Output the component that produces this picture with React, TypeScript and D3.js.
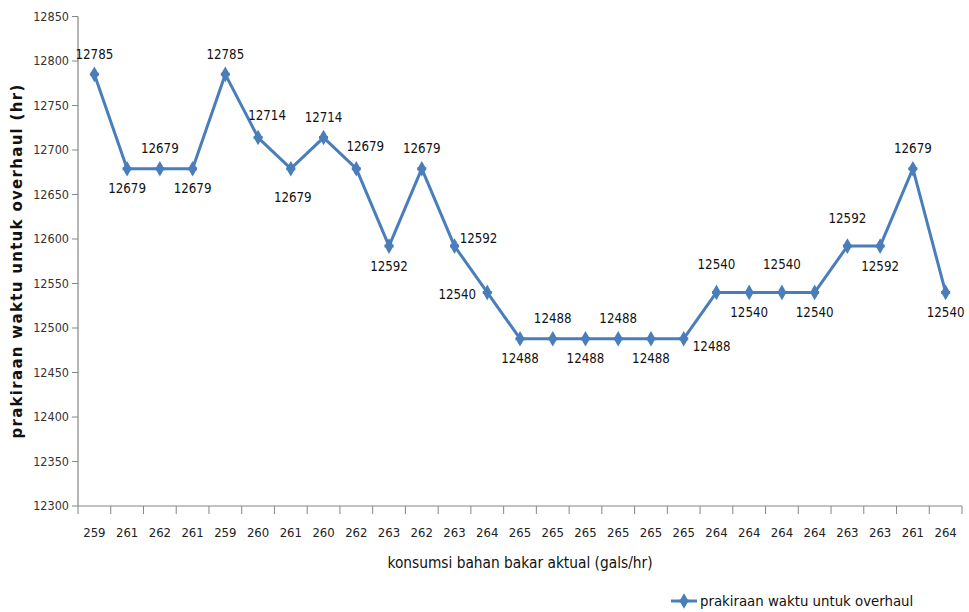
import React from "react";
import * as d3 from "d3";

const categories = ["259","261","262","261","259","260","261","260","262","263","262","263","264","265","265","265","265","265","265","264","264","264","264","263","263","261","264"];
const values = [12785,12679,12679,12679,12785,12714,12679,12714,12679,12592,12679,12592,12540,12488,12488,12488,12488,12488,12488,12540,12540,12540,12540,12592,12592,12679,12540];
const labelPlacement = ["above","below","above","below","above","aboveRight","below2","above","aboveRight","below","above","right","left","below","above","below","above","below","belowRight","above2","below","above2","below","above2","below","above","below"];
const yTicks = [12300,12350,12400,12450,12500,12550,12600,12650,12700,12750,12800,12850];
const seriesName = "prakiraan waktu untuk overhaul";
const xTitle = "konsumsi bahan bakar aktual (gals/hr)";
const yTitle = "prakiraan waktu untuk overhaul (hr)";

const W = 969, H = 612;
const left = 78, right = 962, top = 16.5, bottom = 506;
const FONT = "'DejaVu Sans Condensed', 'Liberation Sans Narrow', sans-serif";
const BLUE = "#4a7ebb";

function offset(p: string): [number, number] {
  switch (p) {
    case "above": return [0, -20];
    case "above2": return [0, -28];
    case "below": return [0, 20];
    case "below2": return [2, 29];
    case "aboveRight": return [9, -22];
    case "belowRight": return [28, 8];
    case "right": return [24, -8];
    case "left": return [-30, 2];
    default: return [0, -20];
  }
}

export default function App() {
  const x = d3.scaleBand<number>().domain(d3.range(categories.length)).range([left, right]);
  const y = d3.scaleLinear().domain([12300, 12850]).range([bottom, top]);
  const cx = (i: number) => (x(i) as number) + x.bandwidth() / 2;
  const line = d3.line<number>().x((_, i) => cx(i)).y((d) => y(d));
  const diamond = d3.symbol().type(d3.symbolDiamond).size(70)() as string;
  const cross = d3.symbol().type(d3.symbolCross).size(45)() as string;
  const bounds = d3.range(categories.length + 1).map((i) => left + i * x.bandwidth());

  return (
    <svg width={W} height={H} style={{ position: "absolute", left: 0, top: 0, background: "#fff" }}>
      {/* y axis */}
      <line x1={left} x2={left} y1={top} y2={bottom} stroke="#868686" strokeWidth={1.2} />
      {yTicks.map((t) => (
        <g key={t}>
          <line x1={left - 6} x2={left} y1={y(t)} y2={y(t)} stroke="#868686" />
          <text x={left - 9} y={y(t)} dy="0.35em" textAnchor="end" fontFamily={FONT} fontSize={12.5} fill="#333">{t}</text>
        </g>
      ))}
      {/* x axis */}
      <line x1={left} x2={right} y1={bottom} y2={bottom} stroke="#868686" strokeWidth={1.2} />
      {bounds.map((b, i) => (
        <line key={i} x1={b} x2={b} y1={bottom} y2={bottom + 8} stroke="#868686" />
      ))}
      {categories.map((c, i) => (
        <text key={i} x={cx(i)} y={bottom + 26} dy="0.35em" textAnchor="middle" fontFamily={FONT} fontSize={13} fill="#222">{c}</text>
      ))}
      <text x={520} y={563} dy="0.35em" textAnchor="middle" fontFamily={FONT} fontSize={15.3} fill="#111">{xTitle}</text>
      <text transform={`translate(17,261) rotate(-90)`} textAnchor="middle" dy="0.35em" fontFamily="'DejaVu Sans', sans-serif" fontWeight="bold" fontSize={15} letterSpacing={1.3} fill="#111">{yTitle}</text>
      {/* line */}
      <path d={line(values) as string} fill="none" stroke={BLUE} strokeWidth={3} strokeLinejoin="round" />
      {values.map((v, i) => (
        <g key={i} transform={`translate(${cx(i)},${y(v)})`}>
          <path d={diamond} fill={BLUE} />
          <path d={cross} fill={BLUE} />
        </g>
      ))}
      {values.map((v, i) => {
        const [dx, dy] = offset(labelPlacement[i]);
        return (
          <text key={i} x={cx(i) + dx} y={y(v) + dy} dy="0.35em" textAnchor="middle" fontFamily={FONT} fontSize={13.2} fill="#111">{v}</text>
        );
      })}
      {/* legend */}
      <line x1={671} x2={697} y1={601} y2={601} stroke={BLUE} strokeWidth={3} />
      <g transform="translate(684,601)">
        <path d={diamond} fill={BLUE} />
        <path d={cross} fill={BLUE} />
      </g>
      <text x={700} y={601} dy="0.35em" fontFamily={FONT} fontSize={14.8} fill="#111">{seriesName}</text>
    </svg>
  );
}
